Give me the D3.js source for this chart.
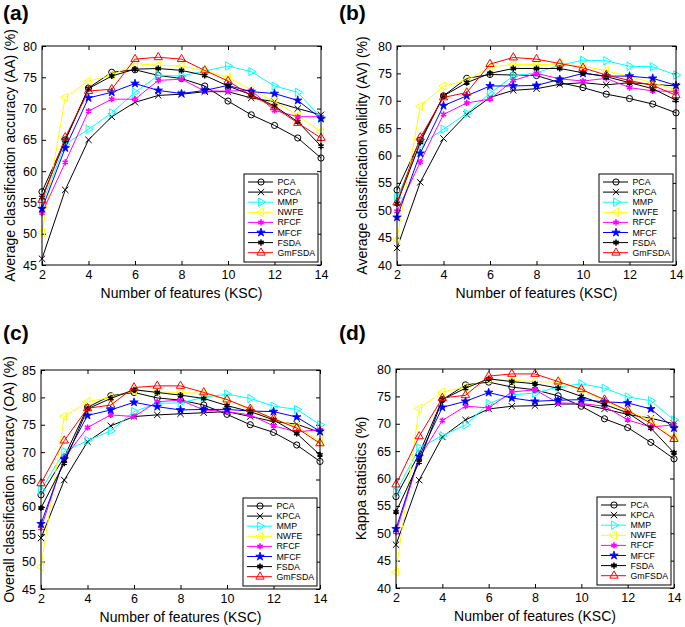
<!DOCTYPE html>
<html><head><meta charset="utf-8">
<script src="https://cdn.jsdelivr.net/npm/d3@7"></script>
<style>
body{margin:0;background:#fff}
svg{display:block}
text{font-family:"Liberation Sans",Arial,Helvetica,sans-serif;fill:#000}
</style>
</head><body>
<svg id="chart" width="685" height="627"></svg>
<script>
// ---------- data ----------
const features = [2, 3, 4, 5, 6, 7, 8, 9, 10, 11, 12, 13, 14];
const seriesNames = ["PCA", "KPCA", "MMP", "NWFE", "RFCF", "MFCF", "FSDA", "GmFSDA"];
const xTicks = [2, 4, 6, 8, 10, 12, 14];
const yTicksAA = [45, 50, 55, 60, 65, 70, 75, 80];
const yTicksAV = [40, 45, 50, 55, 60, 65, 70, 75, 80];
const yTicksOA = [45, 50, 55, 60, 65, 70, 75, 80, 85];
const yTicksKappa = [40, 45, 50, 55, 60, 65, 70, 75, 80];
const panelLabels = ["(a)", "(b)", "(c)", "(d)"];
const yTitles = ["Average classification accuracy (AA) (%)", "Average classification validity (AV) (%)",
                 "Overall classification accuracy (OA) (%)", "Kappa statistics (%)"];
const xTitle = "Number of features (KSC)";

// values per series, in the order of seriesNames
const valuesAA = [
  [56.7, 65.0, 73.3, 75.8, 76.2, 75.3, 74.8, 73.6, 71.2, 69.0, 67.3, 65.3, 62.1],
  [46.0, 57.0, 65.0, 68.7, 71.0, 72.1, 72.3, 72.7, 72.7, 71.7, 71.1, 70.0, 69.0],
  [54.8, 64.3, 66.7, 69.3, 72.6, 75.3, 75.2, 76.0, 76.8, 75.9, 73.6, 72.6, 68.5],
  [50.2, 71.8, 74.4, 75.3, 77.2, 76.9, 76.8, 76.0, 75.0, 73.0, 71.1, 68.9, 66.3],
  [53.3, 61.4, 69.6, 71.5, 71.5, 74.5, 74.7, 72.8, 72.8, 72.9, 69.7, 68.7, 68.7],
  [54.0, 63.7, 71.7, 72.6, 74.0, 72.9, 72.4, 72.9, 73.7, 72.7, 72.4, 71.3, 68.4],
  [55.8, 64.9, 73.2, 75.2, 76.3, 76.4, 76.1, 75.3, 73.6, 72.2, 70.4, 67.9, 64.0],
  [55.4, 65.4, 72.8, 73.1, 77.9, 78.2, 77.9, 76.1, 74.4, 72.1, 70.2, 67.7, 65.3]
];
const valuesAV = [
  [53.7, 62.8, 70.9, 74.1, 74.8, 74.7, 74.6, 73.3, 72.4, 71.2, 70.4, 69.4, 67.8],
  [43.1, 55.1, 63.1, 67.5, 70.6, 71.9, 72.2, 73.0, 73.3, 72.9, 73.3, 73.0, 72.7],
  [52.3, 61.9, 64.8, 67.7, 71.4, 74.5, 75.1, 76.5, 77.4, 77.3, 76.3, 76.2, 74.7],
  [44.7, 69.0, 72.7, 73.7, 76.2, 76.6, 76.6, 76.7, 76.3, 75.5, 74.4, 73.3, 72.0],
  [49.8, 58.8, 67.5, 69.6, 70.3, 73.7, 75.0, 74.0, 73.6, 74.1, 72.4, 71.8, 71.7],
  [48.7, 60.4, 69.1, 70.9, 72.7, 72.7, 72.8, 73.9, 75.0, 74.5, 74.5, 74.1, 72.8],
  [51.2, 62.4, 70.9, 73.3, 75.0, 75.9, 75.9, 75.9, 75.1, 74.4, 73.3, 72.2, 70.1],
  [51.4, 63.3, 70.6, 71.5, 76.7, 77.9, 77.6, 76.8, 76.0, 74.7, 73.7, 72.8, 71.0]
];
const valuesOA = [
  [62.2, 69.1, 78.2, 80.3, 80.9, 79.9, 79.5, 78.6, 76.9, 75.0, 73.6, 71.3, 68.3],
  [54.3, 64.9, 71.9, 74.8, 76.5, 76.8, 77.0, 77.2, 77.4, 76.5, 75.6, 75.1, 73.6],
  [63.1, 70.1, 72.1, 73.9, 77.4, 78.9, 79.0, 80.0, 80.6, 79.8, 78.4, 77.8, 75.0],
  [49.1, 76.5, 79.2, 80.0, 81.2, 81.0, 80.9, 80.7, 79.6, 77.7, 76.1, 74.7, 72.0],
  [56.1, 68.9, 74.5, 76.8, 76.5, 79.2, 79.5, 77.7, 77.4, 76.8, 74.8, 73.7, 74.1],
  [56.9, 68.7, 76.7, 77.7, 79.1, 78.3, 77.7, 77.8, 77.8, 77.5, 77.4, 76.4, 73.8],
  [59.8, 68.0, 77.9, 79.8, 81.4, 80.9, 80.4, 79.8, 78.5, 77.4, 75.9, 73.4, 69.5],
  [64.3, 72.1, 78.0, 78.6, 81.8, 82.1, 82.1, 80.9, 79.6, 77.9, 76.1, 74.4, 71.6]
];
const valuesKappa = [
  [56.7, 64.5, 74.4, 77.1, 77.6, 76.7, 76.2, 75.1, 73.2, 70.9, 69.3, 66.6, 63.6],
  [47.9, 59.7, 67.6, 70.7, 72.7, 73.2, 73.3, 73.6, 73.6, 72.7, 71.7, 71.0, 70.0],
  [57.5, 65.6, 67.8, 69.8, 73.7, 75.3, 75.6, 76.7, 77.3, 76.5, 74.9, 74.2, 70.7],
  [42.9, 72.8, 75.8, 76.7, 78.1, 77.9, 77.7, 77.6, 76.3, 74.1, 72.4, 70.6, 67.5],
  [50.2, 63.7, 70.6, 73.2, 72.9, 75.8, 76.2, 73.8, 73.7, 73.2, 70.7, 69.4, 69.8],
  [50.8, 64.0, 73.0, 74.1, 75.7, 74.7, 74.1, 74.3, 74.4, 74.0, 73.8, 72.7, 69.2],
  [53.9, 63.0, 74.4, 76.5, 78.2, 77.7, 77.3, 76.5, 75.0, 73.5, 72.0, 69.2, 64.7],
  [58.9, 67.7, 74.7, 75.2, 78.7, 79.1, 79.1, 77.7, 76.3, 74.4, 72.4, 70.1, 67.2]
];

// ---------- styles ----------
const seriesColors = ["#000000", "#000000", "#00ffff", "#ffff00", "#ff00ff", "#0000ff", "#000000", "#ff0000"];
const seriesMarkers = ["circle", "times", "triRight", "triLeft", "asterisk", "star", "asterisk", "triUp"];

const panels = [
  {vals: valuesAA, ticks: yTicksAA, left: 42, right: 321, top: 46, bottom: 265, lx: 3, ly: 20, tx: 10},
  {vals: valuesAV, ticks: yTicksAV, left: 397, right: 676, top: 46, bottom: 265, lx: 339, ly: 20, tx: 362},
  {vals: valuesOA, ticks: yTicksOA, left: 41, right: 320, top: 370, bottom: 589, lx: 3, ly: 340, tx: 9},
  {vals: valuesKappa, ticks: yTicksKappa, left: 396, right: 674, top: 369, bottom: 588, lx: 339, ly: 340, tx: 361}
];

const svg = d3.select("#chart");

function markerPath(kind) {
  switch (kind) {
    case "circle": return d3.symbol(d3.symbolCircle, 30)();
    case "times": return d3.symbol(d3.symbolTimes, 28)();
    case "asterisk": return d3.symbol(d3.symbolAsterisk, 26)();
    case "star": return d3.symbol(d3.symbolStar, 22)();
    default: return d3.symbol(d3.symbolTriangle, 30)();
  }
}
function markerRot(kind) {
  if (kind === "triRight") return 90;
  if (kind === "triLeft") return -90;
  return 0;
}
function drawMarker(g, kind, color, cx, cy) {
  const p = g.append("path")
    .attr("d", markerPath(kind))
    .attr("transform", `translate(${cx},${cy}) rotate(${markerRot(kind)})`)
    .attr("stroke", color);
  if (kind === "star") p.attr("fill", color).attr("stroke-width", 0.8);
  else if (kind === "asterisk") p.attr("fill", "none").attr("stroke-width", 1.6);
  else p.attr("fill", "none").attr("stroke-width", 1);
}

panels.forEach((P, pi) => {
  const g = svg.append("g");
  const ext = d3.extent(P.ticks);
  const x = d3.scaleLinear().domain(d3.extent(xTicks)).range([P.left, P.right]);
  const y = d3.scaleLinear().domain(ext).range([P.bottom, P.top]);

  // axes with inward ticks
  const axB = g.append("g").attr("transform", `translate(0,${P.bottom})`)
    .call(d3.axisBottom(x).tickValues(xTicks).tickSizeInner(-4).tickSizeOuter(0).tickPadding(5));
  const axT = g.append("g").attr("transform", `translate(0,${P.top})`)
    .call(d3.axisTop(x).tickValues(xTicks).tickSizeInner(-4).tickSizeOuter(0).tickFormat(""));
  const axL = g.append("g").attr("transform", `translate(${P.left},0)`)
    .call(d3.axisLeft(y).tickValues(P.ticks).tickSizeInner(-4).tickSizeOuter(0).tickPadding(5));
  const axR = g.append("g").attr("transform", `translate(${P.right},0)`)
    .call(d3.axisRight(y).tickValues(P.ticks).tickSizeInner(-4).tickSizeOuter(0).tickFormat(""));
  [axB, axT, axL, axR].forEach(a => {
    a.attr("font-family", null).attr("font-size", null);
    a.selectAll(".domain").remove();
    a.selectAll("line").attr("stroke", "#000").attr("stroke-width", 1);
    a.selectAll("text").attr("font-size", "12.5px").attr("fill", "#000");
  });

  // series
  P.vals.forEach((vals, si) => {
    const color = seriesColors[si];
    const pts = features.map((f, i) => [x(f), y(vals[i])]);
    g.append("path").attr("d", d3.line()(pts))
      .attr("fill", "none").attr("stroke", color).attr("stroke-width", 1);
    const mg = g.append("g");
    pts.forEach(p => drawMarker(mg, seriesMarkers[si], color, p[0], p[1]));
  });

  // frame
  g.append("rect").attr("x", P.left).attr("y", P.top)
    .attr("width", P.right - P.left).attr("height", P.bottom - P.top)
    .attr("fill", "none").attr("stroke", "#000").attr("stroke-width", 1);

  // titles
  g.append("text").attr("x", (P.left + P.right) / 2).attr("y", P.bottom + 33)
    .attr("text-anchor", "middle").attr("font-size", "14px").text(xTitle);
  g.append("text")
    .attr("transform", `translate(${P.tx},${(P.top + P.bottom) / 2}) rotate(-90)`)
    .attr("text-anchor", "middle").attr("dy", "0.35em").attr("font-size", "14px").text(yTitles[pi]);
  g.append("text").attr("x", P.lx).attr("y", P.ly)
    .attr("font-size", "21px").attr("font-weight", "bold").text(panelLabels[pi]);

  // legend
  const lw = 74, lh = 88;
  const lx = P.right - 77, ly = P.bottom - 91;
  const lg = g.append("g");
  lg.append("rect").attr("x", lx).attr("y", ly).attr("width", lw).attr("height", lh)
    .attr("fill", "#fff").attr("stroke", "#000").attr("stroke-width", 1);
  seriesNames.forEach((name, si) => {
    const ry = ly + 8 + si * 10.1;
    lg.append("line").attr("x1", lx + 4).attr("x2", lx + 29).attr("y1", ry).attr("y2", ry)
      .attr("stroke", seriesColors[si]).attr("stroke-width", 1);
    drawMarker(lg, seriesMarkers[si], seriesColors[si], lx + 17, ry);
    lg.append("text").attr("x", lx + 33.5).attr("y", ry).attr("dy", "0.35em")
      .attr("font-size", "8.8px").text(name);
  });
});
</script>
</body></html>
